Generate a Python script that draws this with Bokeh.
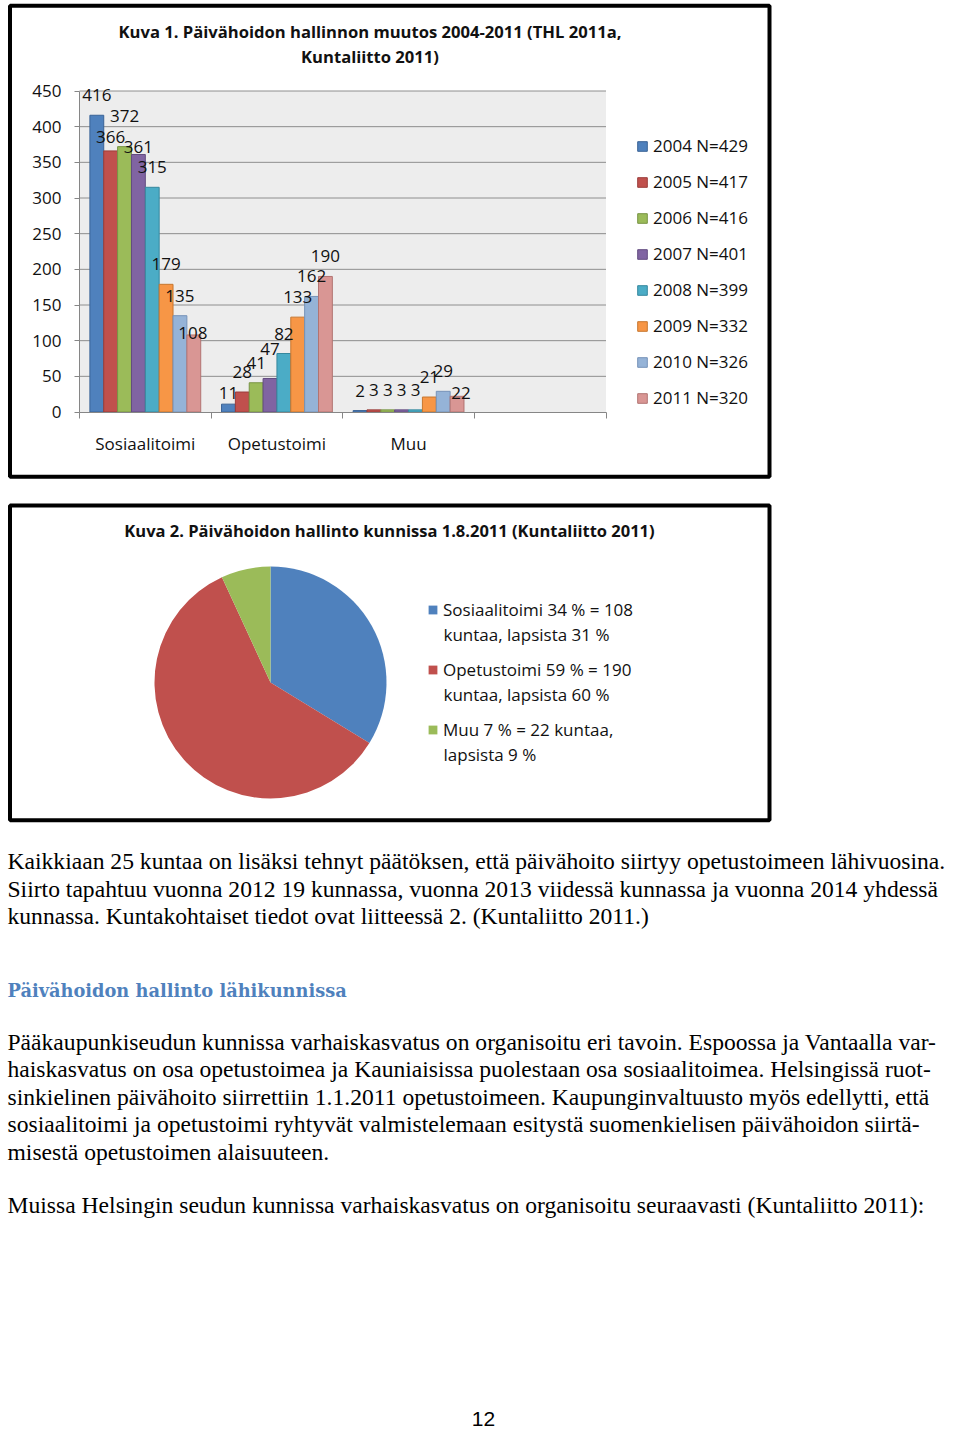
import math
from bokeh.plotting import figure
from bokeh.models import Range1d, LinearAxis, FixedTicker, Legend, LegendItem
from bokeh.core.properties import value
from bokeh.embed import file_html
from bokeh.resources import INLINE

# ---------------- data ----------------
CATEGORIES = ["Sosiaalitoimi", "Opetustoimi", "Muu", ""]
YEARS = ["2004", "2005", "2006", "2007", "2008", "2009", "2010", "2011"]
YEAR_N = [429, 417, 416, 401, 399, 332, 326, 320]
SOSIAALITOIMI = [416, 366, 372, 361, 315, 179, 135, 108]
OPETUSTOIMI = [11, 28, 41, 47, 82, 133, 162, 190]
MUU = [2, 3, 3, 3, 3, 21, 29, 22]
Y_TICKS = [0, 50, 100, 150, 200, 250, 300, 350, 400, 450]
BAR_TITLE = ["Kuva 1. Päivähoidon hallinnon muutos 2004-2011 (THL 2011a,",
             "Kuntaliitto 2011)"]

PIE_TITLE = "Kuva 2. Päivähoidon hallinto kunnissa 1.8.2011 (Kuntaliitto 2011)"
PIE_CATEGORIES = ["Sosiaalitoimi", "Opetustoimi", "Muu"]
PIE_VALUES = [108, 190, 22]
PIE_LEGEND_LINE1 = ["Sosiaalitoimi 34 % = 108", "Opetustoimi 59 % = 190", "Muu 7 % = 22 kuntaa,"]
PIE_LEGEND_LINE2 = ["kuntaa, lapsista 31 %", "kuntaa, lapsista 60 %", "lapsista 9 %"]

PARA1 = [
    "Kaikkiaan 25 kuntaa on lisäksi tehnyt päätöksen, että päivähoito siirtyy opetustoimeen lähivuosina.",
    "Siirto tapahtuu vuonna 2012 19 kunnassa, vuonna 2013 viidessä kunnassa ja vuonna 2014 yhdessä",
    "kunnassa. Kuntakohtaiset tiedot ovat liitteessä 2. (Kuntaliitto 2011.)",
]
HEADING = "Päivähoidon hallinto lähikunnissa"
PARA2 = [
    "Pääkaupunkiseudun kunnissa varhaiskasvatus on organisoitu eri tavoin. Espoossa ja Vantaalla var-",
    "haiskasvatus on osa opetustoimea ja Kauniaisissa puolestaan osa sosiaalitoimea. Helsingissä ruot-",
    "sinkielinen päivähoito siirrettiin 1.1.2011 opetustoimeen. Kaupunginvaltuusto myös edellytti, että",
    "sosiaalitoimi ja opetustoimi ryhtyvät valmistelemaan esitystä suomenkielisen päivähoidon siirtä-",
    "misestä opetustoimen alaisuuteen.",
]
PARA3 = ["Muissa Helsingin seudun kunnissa varhaiskasvatus on organisoitu seuraavasti (Kuntaliitto 2011):"]
PAGE_NUMBER = "12"

# ---------------- styles ----------------
BAR_FILL = ["#4F81BD", "#C0504D", "#9BBB59", "#8064A2", "#4BACC6", "#F79646", "#95B3D7", "#D99694"]
BAR_EDGE = ["#3A6396", "#9A3D3A", "#789444", "#634C80", "#36889E", "#C7772F", "#7592B8", "#B27472"]
PIE_FILL = ["#4F81BD", "#C0504D", "#9BBB59"]
# pixel nudges of individual data labels (as placed in the original)
LABEL_DY = [[0, 9, 0], [6, 0, 0], [-11, 0, 0], [13, -9, 0],
            [0, 0, 0], [0, 0, 0], [0, 0, 0], [18, 0, 17]]
LABEL_DX = [[0, 0, 0], [0, 0, 0], [0, 0, 0], [0, 0, 0],
            [0, 0, 0], [0, 0, 0], [0, 0, 0], [-1, 0, 4]]
CHART_FONT = "Open Sans"
BODY_FONT = "Liberation Serif"
TXT = "#111111"
AXIS_GRAY = "#868686"

# ---------------- page canvas ----------------
W, H, M = 960, 1430, 0
p = figure(width=W, height=H, x_range=Range1d(M, M + W), y_range=Range1d(-(M + H), -M),
           x_axis_type=None, y_axis_type=None, toolbar_location=None,
           output_backend="svg", title=None, min_border=0)
p.outline_line_color = None
p.background_fill_color = "white"
p.border_fill_color = "white"


def Y(py):
    return -py


def span(v0, s0, v1, s1, s_lo, s_hi):
    k = (v1 - v0) / (s1 - s0)
    return v0 + (s_lo - s0) * k, v0 + (s_hi - s0) * k


# bar chart coordinate system (plot area 79..605.5 x 90.5..411.5 on the page)
ncat = len(CATEGORIES)
ymax = Y_TICKS[-1]
bx0, bx1 = span(0, 79, ncat, 605.5, M, M + W)
by0, by1 = span(0, 411.5, ymax, 90.5, M + H, M)
p.extra_x_ranges = {"bx": Range1d(bx0, bx1)}
p.extra_y_ranges = {"by": Range1d(by0, by1)}
B = dict(x_range_name="bx", y_range_name="by")

# boxes
p.quad(left=9.5, right=769, top=Y(5.3), bottom=Y(476.3), fill_color=None,
       line_color="black", line_width=4)
p.quad(left=9.5, right=769, top=Y(505), bottom=Y(819.7), fill_color=None,
       line_color="black", line_width=4)

# plot area + grid
p.quad(left=0, right=ncat, bottom=0, top=ymax, fill_color="#EDEDED", line_color=None, **B)
p.segment(x0=[0] * (len(Y_TICKS) - 1), x1=[ncat] * (len(Y_TICKS) - 1),
          y0=Y_TICKS[1:], y1=Y_TICKS[1:], line_color="#8E8E8E", line_width=1, **B)

# bars
nser = len(YEARS)
slot = 1.0 / (nser + 1.5)
values = list(zip(SOSIAALITOIMI, OPETUSTOIMI, MUU))
legend_items = []
label_calls = []
for j, yr in enumerate(YEARS):
    vals = list(values[j])
    xs = [i + (0.75 + j + 0.5) * slot for i in range(len(vals))]
    r = p.vbar(x=xs, top=vals, bottom=0, width=slot, fill_color=BAR_FILL[j],
               line_color=BAR_EDGE[j], line_width=1, **B)
    legend_items.append(LegendItem(label=f"{yr} N={YEAR_N[j]}", renderers=[r]))
    label_calls.append((xs, vals, j))

# data labels drawn on top of all bars
for xs, vals, j in label_calls:
    p.text(x=xs, y=vals, text=[str(v) for v in vals],
           x_offset=LABEL_DX[j], y_offset=[-20 + d for d in LABEL_DY[j]],
           text_align="center", text_baseline="alphabetic",
           text_font=value(CHART_FONT), text_font_size="17px", text_color=TXT, **B)

# axes
yaxis = LinearAxis(fixed_location=0, bounds=(0, ymax), ticker=FixedTicker(ticks=Y_TICKS, minor_ticks=[]),
                   axis_line_color=AXIS_GRAY, major_tick_line_color=AXIS_GRAY,
                   major_tick_out=5, major_tick_in=0, minor_tick_out=0, minor_tick_in=0,
                   major_label_standoff=13, major_label_text_font=CHART_FONT,
                   major_label_text_font_size="17px", major_label_text_color=TXT, **B)
p.add_layout(yaxis, "left")

cat_ticks = [i + 0.5 for i, c in enumerate(CATEGORIES) if c]
xaxis = LinearAxis(fixed_location=0, bounds=(0, ncat),
                   ticker=FixedTicker(ticks=cat_ticks, minor_ticks=list(range(ncat + 1))),
                   major_label_overrides={t: CATEGORIES[int(t)] for t in cat_ticks},
                   axis_line_color=AXIS_GRAY, major_tick_line_color=None,
                   minor_tick_line_color=AXIS_GRAY, major_tick_out=6, major_tick_in=0,
                   minor_tick_out=6, minor_tick_in=0, major_label_standoff=14,
                   major_label_text_font=CHART_FONT, major_label_text_font_size="17px",
                   major_label_text_color=TXT, **B)
p.add_layout(xaxis, "below")

bar_legend = Legend(items=legend_items, location=(636 - M, (M + H) - 409),
                    glyph_width=12, glyph_height=12, label_standoff=5, label_height=23,
                    spacing=13, padding=0, margin=0, border_line_color=None,
                    background_fill_alpha=0, label_text_font=CHART_FONT,
                    label_text_font_size="17px", label_text_color=TXT)
p.add_layout(bar_legend)

# bar chart title
p.text(x=[369.5, 369.5], y=[Y(30.7), Y(56.3)], text=BAR_TITLE, text_align="center",
       text_baseline="alphabetic", text_font=value(CHART_FONT), text_font_size="16.6px",
       text_font_style="bold", text_color=TXT)

# ---------------- pie ----------------
total = sum(PIE_VALUES)
cum = 0.0
pie_items = []
for k, v in enumerate(PIE_VALUES):
    a0 = math.pi / 2 - 2 * math.pi * cum / total
    cum += v
    a1 = math.pi / 2 - 2 * math.pi * cum / total
    w = p.wedge(x=270, y=Y(682), radius=116, radius_units="screen", start_angle=a0,
                end_angle=a1, direction="clock", fill_color=PIE_FILL[k], line_color=None)
    pie_items.append(LegendItem(label=PIE_LEGEND_LINE1[k], renderers=[w]))

pie_legend = Legend(items=pie_items, location=(427 - M, (M + H) - 741),
                    glyph_width=11, glyph_height=11, label_standoff=5, label_height=23,
                    spacing=37, padding=0, margin=0, border_line_color=None,
                    background_fill_alpha=0, label_text_font=CHART_FONT,
                    label_text_font_size="17px", label_text_color=TXT)
p.add_layout(pie_legend)
p.text(x=[443] * 3, y=[Y(634), Y(694), Y(754)], text=PIE_LEGEND_LINE2, text_align="left",
       text_baseline="alphabetic", text_font=value(CHART_FONT), text_font_size="17px",
       text_color=TXT)

p.text(x=[389], y=[Y(530)], text=[PIE_TITLE], text_align="center", text_baseline="alphabetic",
       text_font=value(CHART_FONT), text_font_size="16.5px", text_font_style="bold", text_color=TXT)

# ---------------- body text ----------------
def para(lines, baselines, size="23.6px"):
    p.text(x=[7] * len(lines), y=[Y(b) for b in baselines], text=lines, text_align="left",
           text_baseline="alphabetic", text_font=value(BODY_FONT), text_font_size=size,
           text_color="black")


para(PARA1, [860, 888, 915])
p.text(x=[7], y=[Y(990)], text=[HEADING], text_align="left", text_baseline="alphabetic",
       text_font=value("DejaVu Serif"), text_font_size="17.8px", text_font_style="bold",
       text_color="#4F81BD")
para(PARA2, [1041, 1068.5, 1096, 1123.5, 1151])
para(PARA3, [1204])
p.text(x=[483], y=[Y(1418)], text=[PAGE_NUMBER], text_align="center", text_baseline="alphabetic",
       text_font=value("Liberation Sans"), text_font_size="21px", text_color="black")

open("out.html", "w").write(file_html(p, INLINE))
